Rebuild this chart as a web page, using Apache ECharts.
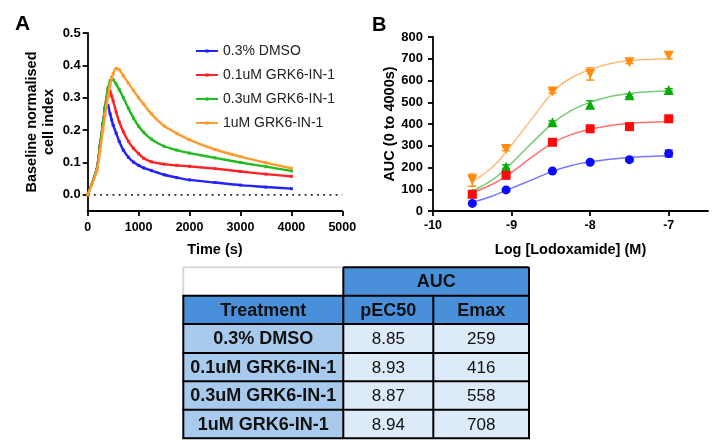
<!DOCTYPE html>
<html><head><meta charset="utf-8">
<script src="https://cdn.jsdelivr.net/npm/echarts@6/dist/echarts.min.js"></script>
<style>html,body{margin:0;padding:0;background:#fff}#c{width:717px;height:440px}</style>
</head><body><div id="c"></div>
<script>
// ---- Panel A: time course ----
const timeA = [0,176,240,300,340,370,400,440,470,500,560,620,700,800,900,1000,1100,1250,1500,1750,2000,2500,3000,3500,4000];
const dmsoA = [0,0.078,0.15,0.22,0.265,0.28,0.275,0.25,0.232,0.215,0.19,0.165,0.138,0.116,0.101,0.091,0.083,0.075,0.062,0.053,0.046,0.038,0.030,0.024,0.019];
const g01A  = [0,0.078,0.15,0.22,0.27,0.30,0.328,0.32,0.305,0.29,0.255,0.225,0.195,0.165,0.143,0.127,0.113,0.102,0.095,0.091,0.088,0.081,0.072,0.064,0.057];
const g03A  = [0,0.078,0.15,0.22,0.27,0.30,0.33,0.352,0.362,0.356,0.342,0.325,0.30,0.267,0.237,0.212,0.193,0.172,0.150,0.138,0.129,0.114,0.100,0.087,0.074];
const g1A   = [0,0.072,0.135,0.20,0.245,0.275,0.305,0.34,0.36,0.375,0.391,0.387,0.368,0.345,0.322,0.300,0.280,0.250,0.213,0.190,0.170,0.140,0.118,0.099,0.082];
const seriesNames = ['0.3% DMSO','0.1uM GRK6-IN-1','0.3uM GRK6-IN-1','1uM GRK6-IN-1'];
const yTicksA = [0,0.1,0.2,0.3,0.4,0.5];
const zeroLineX = [0,5000];

// ---- Panel B: concentration response ----
const logConc = [-9.5,-9.07,-8.48,-8,-7.5,-7];
const aucDmso = [35,97,184,224,236,264];
const aucG01  = [77,164,316,378,388,424];
const aucG03  = [82,204,408,489,532,556];
const aucG1   = [142,285,550,630,684,714];
const semDmso = [3,4,5,5,5,15];
const semG01  = [6,8,6,5,6,6];
const semG03  = [5,8,6,18,6,6];
const semG1   = [28,8,8,28,6,14];
const fitX    = [-9.5,-9.25,-9.07,-8.75,-8.48,-8.25,-8,-7.75,-7.5,-7.25,-7];
const fitDmso = [40,68,95,142,182,208,226,238,246,251,254];
const fitG01  = [85,122,160,245,312,350,376,393,403,408,412];
const fitG03  = [92,142,195,310,402,460,500,526,540,548,552];
const fitG1   = [135,200,272,420,543,610,650,677,690,697,700];
const xTicksB = [-10,-9,-8,-7];

// ---- Table ----
const tableHeader = ['Treatment','pEC50','Emax'];
const tableGroup = 'AUC';
const treatments = ['0.3% DMSO','0.1uM GRK6-IN-1','0.3uM GRK6-IN-1','1uM GRK6-IN-1'];
const pec50 = ['8.85','8.93','8.87','8.94'];
const emax = ['259','416','558','708'];

const lineColors = ['#2222ff','#ff2222','#22bb22','#ff9a30'];
const markColors = ['#0a0aff','#ff0a0a','#0aaa0a','#ff8c10'];
const fitColors  = ['#7777ff','#ff7070','#77cc77','#ffbb77'];
const FONT = 'Liberation Sans';

const aSeries = [dmsoA,g01A,g03A,g1A].map((arr,k)=>({
  name: seriesNames[k], type:'line', xAxisIndex:0, yAxisIndex:0,
  data: timeA.map((t,i)=>[t,arr[i]]),
  symbol:'rect', symbolSize:3, showSymbol:true, smooth:0.25,
  lineStyle:{width:2.4,color:lineColors[k]}, itemStyle:{color:lineColors[k]}, z:3+k
}));
const zeroSeries = {
  name:'zero', type:'custom', xAxisIndex:0, yAxisIndex:0, silent:true, z:1,
  data: [[zeroLineX[0],zeroLineX[1],0]], encode:{x:[0,1],y:2},
  renderItem:function(params, api){
    const a=api.coord([api.value(0),api.value(2)]), b=api.coord([api.value(1),api.value(2)]);
    return {type:'line',shape:{x1:a[0],y1:a[1],x2:b[0],y2:b[1]},
      style:{stroke:'#222',lineWidth:1.8,lineDash:[1.8,4.4]}};
  }
};

const fitSeries = [fitDmso,fitG01,fitG03,fitG1].map((arr,k)=>({
  name:'fit'+k, type:'line', xAxisIndex:1, yAxisIndex:1,
  data: fitX.map((x,i)=>[x,arr[i]]), smooth:true, showSymbol:false, symbol:'none',
  lineStyle:{width:1.5,color:fitColors[k]}, z:2
}));
const symbols = ['circle','rect','triangle','triangle'];
const rots = [0,0,0,180];
const zOrder = [6,5,4,3];
const ptSeries = [aucDmso,aucG01,aucG03,aucG1].map((arr,k)=>({
  name:'pts'+k, type:'scatter', xAxisIndex:1, yAxisIndex:1,
  data: logConc.map((x,i)=>[x,arr[i]]), symbol:symbols[k], symbolRotate:rots[k],
  symbolSize: k>=2 ? 10 : 9, itemStyle:{color:markColors[k], opacity:1}, z:zOrder[k]
}));
const errData = [];
[[aucDmso,semDmso],[aucG01,semG01],[aucG03,semG03],[aucG1,semG1]].forEach((p,k)=>{
  logConc.forEach((x,i)=>errData.push([x,p[0][i]-p[1][i],p[0][i]+p[1][i],k]));
});
const errSeries = {
  name:'err', type:'custom', xAxisIndex:1, yAxisIndex:1, data: errData, z:2,
  encode:{x:0,y:[1,2]},
  renderItem:function(params, api){
    const x=api.value(0), lo=api.value(1), hi=api.value(2), c=markColors[api.value(3)];
    const p1=api.coord([x,lo]), p2=api.coord([x,hi]), w=4;
    const st={stroke:c,lineWidth:1.5};
    return {type:'group',children:[
      {type:'line',shape:{x1:p1[0],y1:p1[1],x2:p2[0],y2:p2[1]},style:st},
      {type:'line',shape:{x1:p1[0]-w,y1:p1[1],x2:p1[0]+w,y2:p1[1]},style:st},
      {type:'line',shape:{x1:p2[0]-w,y1:p2[1],x2:p2[0]+w,y2:p2[1]},style:st}
    ]};
  }
};

// table graphics
const colX = [183.3,343.3,433.3,529];
const rowY = [267.3,295.7,324,353,381.3,409.7,438.3];
const cBlue='#4a8fd9', cMid='#a8caec', cLight='#ddeaf8';
const g = [];
function cell(x0,x1,y0,y1,fill){ g.push({type:'rect',shape:{x:x0,y:y0,width:x1-x0,height:y1-y0},style:{fill:fill},z:1}); }
function txt(x,y,s,bold,size){ g.push({type:'text',x:x,y:y,style:{text:s,fill:'#111',font:(bold?'bold ':'')+size+'px "'+FONT+'"',align:'center',verticalAlign:'middle'},z:3}); }
function ln(x1,y1,x2,y2,c){ g.push({type:'line',shape:{x1:x1,y1:y1,x2:x2,y2:y2},style:{stroke:c,lineWidth:2},z:2}); }
cell(colX[0],colX[1],rowY[0],rowY[1],'#ffffff');
cell(colX[1],colX[3],rowY[0],rowY[1],cBlue);
for(let c=0;c<3;c++) cell(colX[c],colX[c+1],rowY[1],rowY[2],cBlue);
for(let r=0;r<4;r++){
  cell(colX[0],colX[1],rowY[r+2],rowY[r+3],cMid);
  cell(colX[1],colX[3],rowY[r+2],rowY[r+3],cLight);
}
ln(colX[0],rowY[0],colX[1],rowY[0],'#d9d9d9');
ln(colX[0],rowY[0],colX[0],rowY[1],'#d9d9d9');
ln(colX[1],rowY[0],colX[3],rowY[0],'#000');
for(let r=1;r<rowY.length;r++) ln(colX[0]-1,rowY[r],colX[3]+1,rowY[r],'#000');
ln(colX[0],rowY[1],colX[0],rowY[6],'#000');
ln(colX[1],rowY[0],colX[1],rowY[6],'#000');
ln(colX[2],rowY[1],colX[2],rowY[6],'#000');
ln(colX[3],rowY[0],colX[3],rowY[6],'#000');
const mid=(a,b)=>(a+b)/2;
txt(mid(colX[1],colX[3]),mid(rowY[0],rowY[1])+1,tableGroup,true,18);
tableHeader.forEach((h,c)=>txt(mid(colX[c],colX[c+1]),mid(rowY[1],rowY[2])+1,h,true,18));
for(let r=0;r<4;r++){
  const yc=mid(rowY[r+2],rowY[r+3])+1;
  txt(mid(colX[0],colX[1]),yc,treatments[r],true,18);
  txt(mid(colX[1],colX[2]),yc,pec50[r],false,17);
  txt(mid(colX[2],colX[3]),yc,emax[r],false,17);
}
g.push({type:'text',x:15,y:14,style:{text:'A',fill:'#000',font:'bold 21px "'+FONT+'"'}});
g.push({type:'text',x:372,y:15,style:{text:'B',fill:'#000',font:'bold 20px "'+FONT+'"'}});

const axisLineS = {show:true,onZero:false,lineStyle:{color:'#000',width:1.8}};
const tickS = {show:true,length:5,lineStyle:{color:'#000',width:1.8}};
const lblS = {color:'#000',fontWeight:'bold',fontFamily:FONT,fontSize:13};
const nameS = {color:'#000',fontWeight:'bold',fontFamily:FONT,fontSize:14.5};

const chart = echarts.init(document.getElementById('c'));
chart.setOption({
  animation:false,
  backgroundColor:'#fff',
  textStyle:{fontFamily:FONT},
  grid:[
    {left:87.7,top:33,width:254.6,height:178},
    {left:433,top:37,width:275,height:174}
  ],
  xAxis:[
    {gridIndex:0,type:'value',min:0,max:5000,interval:1000,
     axisLine:axisLineS,axisTick:tickS,splitLine:{show:false},
     axisLabel:Object.assign({},lblS,{margin:10,fontSize:12.5,formatter:v=>String(v)}),
     name:'Time (s)',nameLocation:'middle',nameGap:31,nameTextStyle:nameS},
    {gridIndex:1,type:'value',min:-10,max:-6.5,
     axisLine:axisLineS,axisTick:Object.assign({},tickS,{customValues:xTicksB}),splitLine:{show:false},
     axisLabel:Object.assign({},lblS,{margin:8,fontSize:12.5,customValues:xTicksB,formatter:v=>String(v)}),
     name:'Log [Lodoxamide] (M)',nameLocation:'middle',nameGap:31,nameTextStyle:nameS}
  ],
  yAxis:[
    {gridIndex:0,type:'value',min:-0.05,max:0.5,
     axisLine:axisLineS,axisTick:Object.assign({},tickS,{customValues:yTicksA}),splitLine:{show:false},
     axisLabel:Object.assign({},lblS,{margin:7,customValues:yTicksA,formatter:v=>Number(v).toFixed(1)}),
     name:'Baseline normalised\ncell index',nameLocation:'middle',nameGap:30,
     nameTextStyle:Object.assign({},nameS,{lineHeight:17})},
    {gridIndex:1,type:'value',min:0,max:800,interval:100,
     axisLine:axisLineS,axisTick:tickS,splitLine:{show:false},
     axisLabel:Object.assign({},lblS,{margin:10}),
     name:'AUC (0 to 4000s)',nameLocation:'middle',nameGap:36,nameTextStyle:nameS}
  ],
  legend:{data:seriesNames,orient:'vertical',left:190,top:39,itemWidth:22,itemHeight:4,itemGap:10,
    textStyle:{fontFamily:FONT,fontSize:14,color:'#222',lineHeight:14},selectedMode:false},
  series:[zeroSeries,...aSeries,...fitSeries,errSeries,...ptSeries],
  graphic:{elements:g}
});
</script></body></html>
